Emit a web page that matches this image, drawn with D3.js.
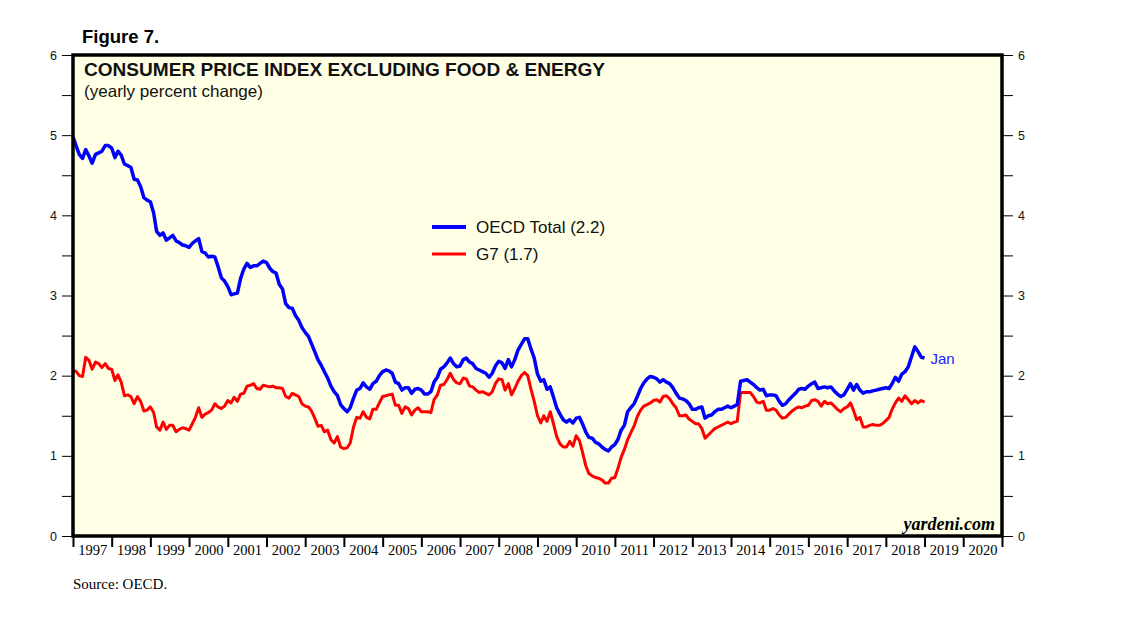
<!DOCTYPE html>
<html>
<head>
<meta charset="utf-8">
<script src="https://cdn.jsdelivr.net/npm/d3@7"></script>
<style>
  body { margin: 0; background: #fff; }
  svg { display: block; }
</style>
</head>
<body>
<script>
// monthly values, Jan 1997 .. Jan 2019 (one row per year)
const oecd = [
  4.98, 4.86, 4.76, 4.71, 4.82, 4.74, 4.65, 4.76, 4.78, 4.80, 4.87, 4.87,
  4.84, 4.72, 4.80, 4.75, 4.64, 4.62, 4.60, 4.45, 4.44, 4.36, 4.22, 4.19,
  4.17, 4.03, 3.80, 3.75, 3.78, 3.69, 3.72, 3.75, 3.68, 3.66, 3.63, 3.62,
  3.60, 3.65, 3.68, 3.71, 3.55, 3.53, 3.48, 3.49, 3.48, 3.36, 3.22, 3.18,
  3.11, 3.01, 3.02, 3.03, 3.21, 3.33, 3.40, 3.35, 3.37, 3.37, 3.40, 3.43,
  3.41, 3.34, 3.30, 3.28, 3.14, 3.08, 2.90, 2.85, 2.84, 2.75, 2.69, 2.60,
  2.54, 2.49, 2.40, 2.30, 2.20, 2.13, 2.05, 1.97, 1.87, 1.80, 1.75, 1.64,
  1.59, 1.55, 1.60, 1.72, 1.82, 1.84, 1.91, 1.86, 1.83, 1.90, 1.93, 2.00,
  2.05, 2.07, 2.06, 2.03, 1.92, 1.90, 1.82, 1.85, 1.85, 1.78, 1.83, 1.84,
  1.82, 1.77, 1.77, 1.80, 1.92, 1.98, 2.08, 2.11, 2.16, 2.22, 2.15, 2.11,
  2.12, 2.20, 2.22, 2.17, 2.15, 2.09, 2.07, 2.05, 2.03, 1.98, 2.03, 2.12,
  2.18, 2.16, 2.09, 2.20, 2.11, 2.20, 2.32, 2.39, 2.46, 2.46, 2.33, 2.22,
  2.02, 1.93, 1.95, 1.83, 1.86, 1.73, 1.60, 1.52, 1.45, 1.42, 1.45, 1.41,
  1.47, 1.48, 1.40, 1.30, 1.23, 1.22, 1.17, 1.15, 1.11, 1.08, 1.06, 1.11,
  1.14, 1.21, 1.32, 1.38, 1.55, 1.60, 1.65, 1.74, 1.84, 1.91, 1.96, 1.99,
  1.98, 1.96, 1.92, 1.95, 1.92, 1.90, 1.85, 1.78, 1.72, 1.71, 1.69, 1.65,
  1.58, 1.58, 1.60, 1.61, 1.47, 1.50, 1.51, 1.55, 1.58, 1.58, 1.60, 1.62,
  1.60, 1.62, 1.64, 1.93, 1.94, 1.95, 1.92, 1.89, 1.85, 1.82, 1.83, 1.75,
  1.76, 1.76, 1.75, 1.68, 1.63, 1.65, 1.70, 1.74, 1.78, 1.83, 1.84, 1.83,
  1.87, 1.90, 1.92, 1.84, 1.85, 1.86, 1.85, 1.86, 1.81, 1.77, 1.74, 1.76,
  1.83, 1.90, 1.82, 1.89, 1.82, 1.78, 1.80, 1.80, 1.81, 1.82, 1.83, 1.84,
  1.85, 1.84, 1.90, 1.98, 1.93, 2.02, 2.05, 2.11, 2.24, 2.36, 2.30, 2.23,
  2.22
];

const g7 = [
  2.07, 2.05, 2.00, 1.99, 2.23, 2.19, 2.08, 2.17, 2.15, 2.10, 2.15, 2.09,
  2.08, 1.94, 2.01, 1.92, 1.75, 1.76, 1.74, 1.65, 1.74, 1.68, 1.56, 1.57,
  1.61, 1.54, 1.36, 1.32, 1.42, 1.33, 1.38, 1.38, 1.30, 1.33, 1.35, 1.34,
  1.32, 1.40, 1.48, 1.60, 1.48, 1.52, 1.54, 1.57, 1.65, 1.61, 1.59, 1.62,
  1.69, 1.66, 1.73, 1.68, 1.77, 1.78, 1.87, 1.88, 1.90, 1.84, 1.83, 1.88,
  1.87, 1.86, 1.87, 1.85, 1.85, 1.84, 1.74, 1.72, 1.78, 1.76, 1.74, 1.65,
  1.62, 1.61, 1.56, 1.47, 1.37, 1.38, 1.30, 1.32, 1.20, 1.16, 1.24, 1.11,
  1.09, 1.10, 1.16, 1.36, 1.48, 1.47, 1.55, 1.48, 1.46, 1.58, 1.58, 1.66,
  1.74, 1.75, 1.76, 1.77, 1.63, 1.63, 1.53, 1.61, 1.59, 1.51, 1.57, 1.60,
  1.55, 1.55, 1.55, 1.54, 1.70, 1.76, 1.88, 1.89, 1.95, 2.03, 1.95, 1.91,
  1.90, 1.97, 1.96, 1.87, 1.86, 1.82, 1.79, 1.80, 1.78, 1.76, 1.80, 1.90,
  1.96, 1.95, 1.82, 1.90, 1.76, 1.84, 1.93, 2.00, 2.04, 2.00, 1.83, 1.68,
  1.50, 1.41, 1.50, 1.43, 1.55, 1.40, 1.24, 1.15, 1.11, 1.11, 1.18, 1.12,
  1.25, 1.19, 1.05, 0.88, 0.78, 0.75, 0.73, 0.72, 0.70, 0.66, 0.66, 0.72,
  0.73, 0.85, 0.98, 1.08, 1.20, 1.29, 1.37, 1.49, 1.57, 1.62, 1.64, 1.66,
  1.69, 1.70, 1.67, 1.74, 1.75, 1.71, 1.65, 1.60, 1.50, 1.50, 1.51, 1.46,
  1.43, 1.40, 1.40, 1.34, 1.22, 1.26, 1.30, 1.34, 1.36, 1.38, 1.40, 1.42,
  1.40, 1.42, 1.43, 1.79, 1.79, 1.79, 1.79, 1.74, 1.67, 1.66, 1.68, 1.57,
  1.57, 1.59, 1.57, 1.51, 1.47, 1.48, 1.52, 1.56, 1.59, 1.61, 1.60, 1.62,
  1.63, 1.69, 1.70, 1.68, 1.62, 1.68, 1.65, 1.66, 1.62, 1.58, 1.55, 1.59,
  1.61, 1.66, 1.57, 1.45, 1.48, 1.36, 1.36, 1.38, 1.39, 1.38, 1.38, 1.40,
  1.44, 1.48, 1.58, 1.66, 1.72, 1.68, 1.75, 1.70, 1.65, 1.69, 1.66, 1.69,
  1.67
];

const years = d3.range(1997, 2021);
const yTicks = d3.range(0, 6.01, 0.5);
const legendItems = [
  { label: "OECD Total (2.2)", color: "#0000ff", width: 4 },
  { label: "G7 (1.7)", color: "#ff0000", width: 3 }
];

const width = 1138, height = 621;
const margin = { top: 55, right: 136, bottom: 85, left: 73 };
const innerRight = width - margin.right;
const innerBottom = height - margin.bottom;
const sans = "Arial, Liberation Sans, sans-serif";
const serif = "Times New Roman, Liberation Serif, serif";

const months = d3.timeMonth.range(new Date(1997, 0, 1), new Date(2019, 1, 1));

const x = d3.scaleTime()
  .domain([new Date(1997, 0, 1), new Date(2021, 0, 1)])
  .range([margin.left, innerRight]);

const y = d3.scaleLinear()
  .domain([0, 6])
  .range([innerBottom, margin.top]);

const svg = d3.select("body").append("svg")
  .attr("width", width)
  .attr("height", height)
  .attr("viewBox", [0, 0, width, height]);

// plot background
svg.append("rect")
  .attr("x", margin.left)
  .attr("y", margin.top)
  .attr("width", innerRight - margin.left)
  .attr("height", innerBottom - margin.top)
  .attr("fill", "#ffffe5");

// Left and right y axes
const fmt = (d) => (Number.isInteger(d) ? d : "");
svg.append("g")
  .attr("transform", `translate(${margin.left - 1},0)`)
  .call(d3.axisLeft(y).tickValues(yTicks).tickFormat(fmt).tickSize(10).tickPadding(5))
  .call((g) => g.select(".domain").remove())
  .call((g) => g.selectAll("text").attr("font-family", sans).attr("font-size", 12.5).attr("fill", "#111"));

svg.append("g")
  .attr("transform", `translate(${innerRight + 1},0)`)
  .call(d3.axisRight(y).tickValues(yTicks).tickFormat(fmt).tickSize(10).tickPadding(5))
  .call((g) => g.select(".domain").remove())
  .call((g) => g.selectAll("text").attr("font-family", sans).attr("font-size", 12.5).attr("fill", "#111"));

// x axis: year boundary ticks, labels centred in each year
svg.append("g")
  .attr("transform", `translate(0,${innerBottom})`)
  .call(d3.axisBottom(x).ticks(d3.timeYear.every(1)).tickFormat("").tickSize(11))
  .call((g) => g.select(".domain").remove())
  .call((g) => g.selectAll("line").attr("stroke-width", 2));

svg.append("g")
  .attr("transform", `translate(0,${innerBottom})`)
  .call(d3.axisBottom(x)
    .tickValues(years.map((yr) => new Date(yr, 6, 2)))
    .tickFormat(d3.timeFormat("%Y"))
    .tickSize(0)
    .tickPadding(9))
  .call((g) => g.select(".domain").remove())
  .call((g) => g.selectAll("text")
    .attr("font-family", serif)
    .attr("font-size", 14.5)
    .attr("fill", "#000"));

// lines
const line = (vals) => d3.line()
  .x((d, i) => x(months[i]))
  .y((d) => y(d))(vals);

svg.append("path")
  .attr("d", line(g7))
  .attr("fill", "none")
  .attr("stroke", "#ff0000")
  .attr("stroke-width", 3)
  .attr("stroke-linejoin", "round");

svg.append("path")
  .attr("d", line(oecd))
  .attr("fill", "none")
  .attr("stroke", "#0000ff")
  .attr("stroke-width", 3.5)
  .attr("stroke-linejoin", "round");

// frame
svg.append("rect")
  .attr("x", margin.left)
  .attr("y", margin.top)
  .attr("width", innerRight - margin.left)
  .attr("height", innerBottom - margin.top)
  .attr("fill", "none")
  .attr("stroke", "#000")
  .attr("stroke-width", 3.5);

// end label
svg.append("text")
  .attr("x", x(months[months.length - 1]) + 6)
  .attr("y", y(oecd[oecd.length - 1]) + 6)
  .attr("fill", "#2020ff")
  .attr("font-family", sans)
  .attr("font-size", 15)
  .text("Jan");

// legend
const leg = svg.append("g").attr("transform", "translate(432,227)");
legendItems.forEach((d, i) => {
  leg.append("line")
    .attr("x1", 0).attr("x2", 34)
    .attr("y1", i * 27).attr("y2", i * 27)
    .attr("stroke", d.color)
    .attr("stroke-width", d.width);
  leg.append("text")
    .attr("x", 44)
    .attr("y", i * 27 + 6)
    .attr("font-family", sans)
    .attr("font-size", 17)
    .attr("fill", "#111")
    .text(d.label);
});

// titles
svg.append("text")
  .attr("x", 82).attr("y", 43)
  .attr("font-family", sans)
  .attr("font-weight", "bold")
  .attr("font-size", 18.5)
  .text("Figure 7.");

svg.append("text")
  .attr("x", 84).attr("y", 76)
  .attr("font-family", sans)
  .attr("font-weight", "bold")
  .attr("font-size", 18.5)
  .attr("textLength", 521)
  .attr("lengthAdjust", "spacingAndGlyphs")
  .attr("fill", "#111")
  .text("CONSUMER PRICE INDEX EXCLUDING FOOD & ENERGY");

svg.append("text")
  .attr("x", 84).attr("y", 97)
  .attr("font-family", sans)
  .attr("font-size", 16.5)
  .attr("textLength", 179)
  .attr("lengthAdjust", "spacingAndGlyphs")
  .attr("fill", "#111")
  .text("(yearly percent change)");

svg.append("text")
  .attr("x", 995).attr("y", 530)
  .attr("text-anchor", "end")
  .attr("font-family", serif)
  .attr("font-style", "italic")
  .attr("font-weight", "bold")
  .attr("font-size", 18)
  .text("yardeni.com");

svg.append("text")
  .attr("x", 73).attr("y", 589)
  .attr("font-family", serif)
  .attr("font-size", 15)
  .text("Source: OECD.");
</script>
</body>
</html>
